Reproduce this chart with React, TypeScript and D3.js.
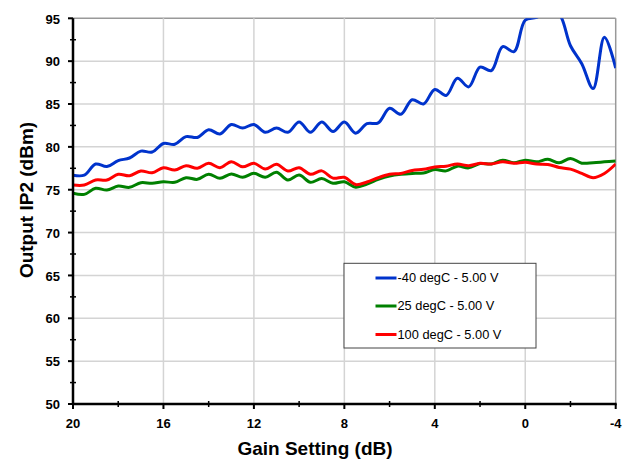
import React from "react";
import * as d3 from "d3";

const GAIN = [20, 19.5, 19, 18.5, 18, 17.5, 17, 16.5, 16, 15.5, 15, 14.5, 14, 13.5, 13, 12.5, 12, 11.5, 11, 10.5, 10, 9.5, 9, 8.5, 8, 7.5, 7, 6.5, 6, 5.5, 5, 4.5, 4, 3.5, 3, 2.5, 2, 1.5, 1, 0.5, 0, -0.5, -1, -1.5, -2, -2.5, -3, -3.5, -4];

const BLUE = [76.7, 76.7, 78.0, 77.7, 78.4, 78.7, 79.5, 79.4, 80.4, 80.3, 81.2, 81.1, 82.0, 81.5, 82.6, 82.2, 82.6, 81.7, 82.2, 81.7, 82.9, 81.7, 82.9, 81.8, 82.9, 81.6, 82.7, 82.8, 84.5, 83.8, 85.5, 85.0, 86.7, 86.0, 88.0, 87.0, 89.3, 88.9, 91.7, 91.1, 94.8, 95.1, 96.0, 95.5, 91.8, 89.7, 86.8, 92.8, 89.2];

const GREEN = [74.58, 74.46, 75.16, 74.96, 75.43, 75.28, 75.82, 75.75, 75.93, 75.86, 76.4, 76.21, 76.8, 76.33, 76.83, 76.45, 76.91, 76.45, 77.03, 76.13, 76.71, 75.86, 76.3, 75.75, 75.93, 75.3, 75.65, 76.2, 76.6, 76.8, 76.9, 76.95, 77.35, 77.2, 77.75, 77.55, 78.05, 78.0, 78.45, 78.15, 78.45, 78.25, 78.55, 78.15, 78.65, 78.1, 78.15, 78.25, 78.35];

const RED = [75.55, 75.55, 76.13, 76.13, 76.8, 76.63, 77.18, 76.98, 77.57, 77.3, 77.8, 77.5, 78.08, 77.57, 78.27, 77.68, 78.08, 77.42, 77.96, 77.18, 77.57, 76.8, 77.2, 76.35, 76.45, 75.6, 75.9, 76.4, 76.8, 76.9, 77.25, 77.38, 77.65, 77.75, 78.0, 77.8, 78.08, 78.0, 78.27, 78.08, 78.2, 78.0, 77.95, 77.6, 77.4, 76.9, 76.4, 76.9, 78.0];

const SERIES_NAMES = ["-40 degC - 5.00 V", "25 degC - 5.00 V", "100 degC - 5.00 V"];
const SERIES_COLORS = ["#0033cc", "#008000", "#ff0000"];
const X_TICKS = [20, 16, 12, 8, 4, 0, -4];
const X_MINOR = [18, 14, 10, 6, 2, -2];
const Y_TICKS = [50, 55, 60, 65, 70, 75, 80, 85, 90, 95];
const Y_MINOR = [52.5, 57.5, 62.5, 67.5, 72.5, 77.5, 82.5, 87.5, 92.5];

export default function App() {
  const W = 634, H = 461;
  const L = 73, R = 615.7, T = 18.3, B = 404;
  const x = d3.scaleLinear().domain([20, -4]).range([L, R]);
  const y = d3.scaleLinear().domain([50, 95]).range([B, T]);
  const font = "'Liberation Sans', Arial, sans-serif";
  const seriesData = [BLUE, GREEN, RED];
  const line = d3
    .line<[number, number]>()
    .x((d) => x(d[0]))
    .y((d) => y(d[1]))
    .curve(d3.curveCatmullRom.alpha(0.5));

  const legX = 344, legY = 263.3, legW = 192, legH = 84.7;
  const legRows = [278, 306, 334.5];

  return (
    <svg width={W} height={H} style={{ position: "absolute", left: 0, top: 0 }} fontFamily={font}>
      <defs>
        <clipPath id="plotclip">
          <rect x={L} y={T} width={R - L} height={B - T} />
        </clipPath>
      </defs>
      <rect x={0} y={0} width={W} height={H} fill="#fff" />
      {/* grid */}
      {Y_TICKS.filter((v) => v !== 50).map((v) => (
        <line key={"gy" + v} x1={L} x2={R} y1={y(v)} y2={y(v)} stroke={v === 95 ? "#999" : "#d4d4d4"} strokeWidth={1.5} />
      ))}
      {X_TICKS.filter((v) => v !== 20).map((v) => (
        <line key={"gx" + v} x1={x(v)} x2={x(v)} y1={T} y2={B} stroke={v === -4 ? "#999" : "#d4d4d4"} strokeWidth={1.5} />
      ))}
      {/* series */}
      <g clipPath="url(#plotclip)">
        {seriesData.map((s, i) => (
          <path
            key={i}
            d={line(GAIN.map((g, j) => [g, s[j]] as [number, number])) || ""}
            fill="none"
            stroke={SERIES_COLORS[i]}
            strokeWidth={3}
            strokeLinejoin="round"
          />
        ))}
      </g>
      {/* axes */}
      <line x1={L} x2={L} y1={T} y2={B + 1} stroke="#000" strokeWidth={2.5} />
      <line x1={L - 1} x2={R + 1} y1={B} y2={B} stroke="#000" strokeWidth={2.5} />
      {Y_TICKS.map((v) => (
        <line key={"ty" + v} x1={L - 5} x2={L} y1={y(v)} y2={y(v)} stroke="#000" strokeWidth={2} />
      ))}
      {Y_MINOR.map((v) => (
        <line key={"my" + v} x1={L - 3} x2={L + 3} y1={y(v)} y2={y(v)} stroke="#000" strokeWidth={1.5} />
      ))}
      {X_TICKS.map((v) => (
        <line key={"tx" + v} x1={x(v)} x2={x(v)} y1={B} y2={B + 5} stroke="#000" strokeWidth={2} />
      ))}
      {X_MINOR.map((v) => (
        <line key={"mx" + v} x1={x(v)} x2={x(v)} y1={B - 3} y2={B + 3} stroke="#000" strokeWidth={1.5} />
      ))}
      {/* tick labels */}
      {Y_TICKS.map((v) => (
        <text key={"ly" + v} x={60} y={y(v)} dy="0.4em" textAnchor="end" fontSize={13} fontWeight="bold" fill="#000">
          {v}
        </text>
      ))}
      {X_TICKS.map((v) => (
        <text key={"lx" + v} x={x(v)} y={428} textAnchor="middle" fontSize={13} fontWeight="bold" fill="#000">
          {v}
        </text>
      ))}
      {/* axis titles */}
      <text x={315} y={455} textAnchor="middle" fontSize={19} fontWeight="bold" fill="#000">
        Gain Setting (dB)
      </text>
      <text
        transform={`translate(33, 200) rotate(-90)`}
        textAnchor="middle"
        fontSize={19}
        fontWeight="bold"
        fill="#000"
      >
        Output IP2 (dBm)
      </text>
      {/* legend */}
      <rect x={legX} y={legY} width={legW} height={legH} fill="#fff" stroke="#444" strokeWidth={1} />
      {SERIES_NAMES.map((n, i) => (
        <g key={n}>
          <line x1={375.5} x2={396.5} y1={legRows[i]} y2={legRows[i]} stroke={SERIES_COLORS[i]} strokeWidth={3} />
          <text x={397.5} y={legRows[i]} dy="0.35em" fontSize={12.8} fill="#000">
            {n}
          </text>
        </g>
      ))}
    </svg>
  );
}
